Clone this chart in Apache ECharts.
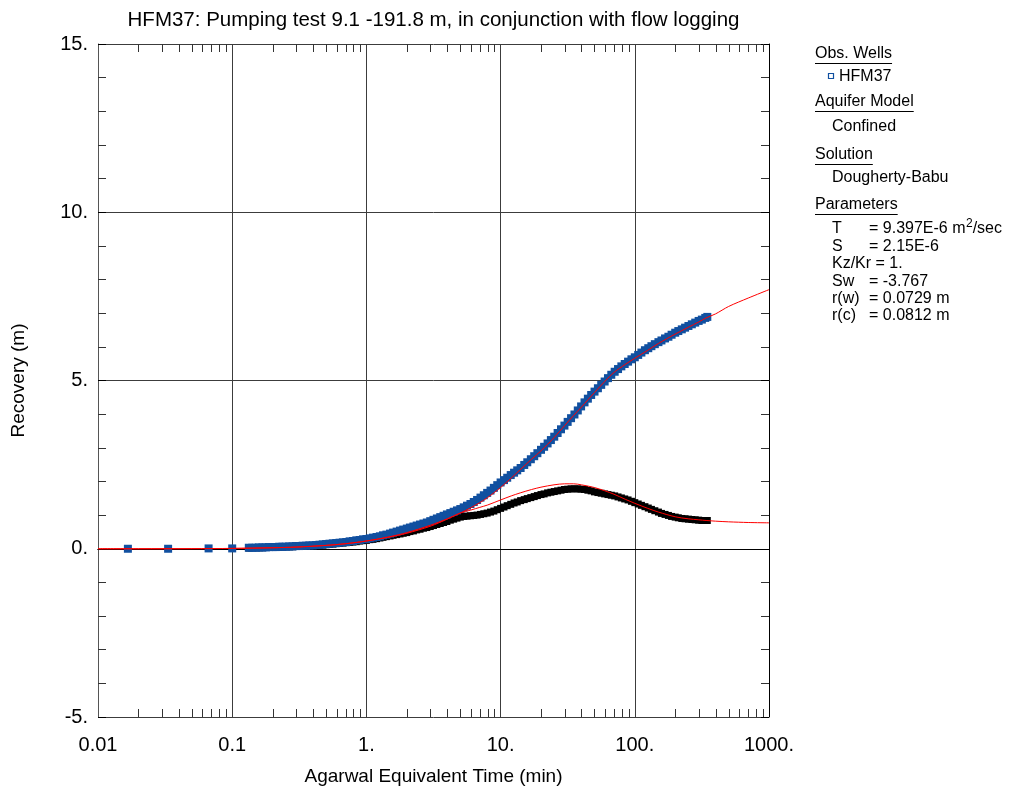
<!DOCTYPE html>
<html>
<head>
<meta charset="utf-8">
<script src="https://cdn.jsdelivr.net/npm/echarts@6/dist/echarts.min.js"></script>
<style>
  html, body { margin: 0; padding: 0; background: #ffffff; }
  #chart { width: 1016px; height: 791px; }
</style>
</head>
<body>
<div id="chart"></div>
<script>
// ---- text ----
const chartTitle = 'HFM37: Pumping test 9.1 -191.8 m, in conjunction with flow logging';
const xAxisTitle = 'Agarwal Equivalent Time (min)';
const yAxisTitle = 'Recovery (m)';

// ---- axes ----
const xMin = 0.01, xMax = 1000;
const xTickValues = [0.01, 0.1, 1, 10, 100, 1000];
const xTickLabels = ['0.01', '0.1', '1.', '10.', '100.', '1000.'];
const xMinorTicks = [
  0.02, 0.03, 0.04, 0.05, 0.06, 0.07, 0.08, 0.09,
  0.2, 0.3, 0.4, 0.5, 0.6, 0.7, 0.8, 0.9,
  2, 3, 4, 5, 6, 7, 8, 9,
  20, 30, 40, 50, 60, 70, 80, 90,
  200, 300, 400, 500, 600, 700, 800, 900
];
const yMin = -5, yMax = 15, yStep = 5;
const yTickValues = [-5, 0, 5, 10, 15];
const yTickLabels = ['-5.', '0.', '5.', '10.', '15.'];

// ---- observed recovery, HFM37 (min, m) ----
const hfm37Time = [
  0.0167, 0.0333, 0.0667, 0.1,
  0.133, 0.141, 0.15, 0.158, 0.168, 0.178, 0.188, 0.2, 0.211, 0.224, 0.237, 0.251, 0.266, 0.282,
  0.299, 0.316, 0.335, 0.355, 0.376, 0.398, 0.422, 0.447, 0.473, 0.501, 0.531, 0.562, 0.596,
  0.631, 0.668, 0.708, 0.75, 0.794, 0.841, 0.891, 0.944,
  1.00, 1.06, 1.12, 1.19, 1.26, 1.33, 1.41, 1.50, 1.58, 1.68, 1.78, 1.88, 2.00, 2.11, 2.24,
  2.37, 2.51, 2.66, 2.82, 2.99, 3.16, 3.35, 3.55, 3.76, 3.98, 4.22, 4.47, 4.73, 5.01, 5.31,
  5.62, 5.96, 6.31, 6.68, 7.08, 7.50, 7.94, 8.41, 8.91, 9.44,
  10.0, 10.6, 11.2, 11.9, 12.6, 13.3, 14.1, 15.0, 15.8, 16.8, 17.8, 18.8, 20.0, 21.1, 22.4,
  23.7, 25.1, 26.6, 28.2, 29.9, 31.6, 33.5, 35.5, 37.6, 39.8, 42.2, 44.7, 47.3, 50.1, 53.1,
  56.2, 59.6, 63.1, 66.8, 70.8, 75.0, 79.4, 84.1, 89.1, 94.4,
  100, 106, 112, 119, 126, 133, 141, 150, 158, 168, 178, 188, 200, 211, 224, 237, 251, 266,
  282, 299, 316, 335, 347
];
const hfm37Recovery = [
  0.00, 0.00, 0.01, 0.01,
  0.03, 0.03, 0.03, 0.04, 0.04, 0.04, 0.05, 0.05, 0.05, 0.06, 0.06, 0.06, 0.07, 0.07,
  0.08, 0.08, 0.09, 0.09, 0.10, 0.10, 0.11, 0.12, 0.13, 0.14, 0.15, 0.16, 0.17,
  0.18, 0.19, 0.20, 0.22, 0.23, 0.25, 0.26, 0.28,
  0.29, 0.31, 0.33, 0.35, 0.37, 0.40, 0.42, 0.45, 0.48, 0.51, 0.54, 0.57, 0.60, 0.63, 0.66,
  0.69, 0.72, 0.75, 0.78, 0.82, 0.86, 0.90, 0.94, 0.98, 1.02, 1.06, 1.10, 1.14, 1.18, 1.23,
  1.28, 1.33, 1.39, 1.45, 1.52, 1.59, 1.66, 1.73, 1.81, 1.89,
  1.97, 2.04, 2.11, 2.19, 2.26, 2.33, 2.40, 2.49, 2.57, 2.66, 2.75, 2.84, 2.94, 3.03, 3.13,
  3.23, 3.33, 3.44, 3.55, 3.66, 3.77, 3.88, 3.99, 4.11, 4.23, 4.35, 4.46, 4.57, 4.67, 4.77,
  4.87, 4.97, 5.07, 5.17, 5.26, 5.34, 5.42, 5.49, 5.56, 5.63,
  5.69, 5.76, 5.83, 5.90, 5.96, 6.02, 6.08, 6.14, 6.19, 6.25, 6.30, 6.36, 6.42, 6.47, 6.52, 6.57, 6.62, 6.67,
  6.72, 6.77, 6.81, 6.86, 6.89
];

// ---- recovery with flow-logging correction (min, m); same sampling from 0.133 min ----
const flowTime = hfm37Time.slice(4);
const flowRecovery = [
  0.02, 0.03, 0.03, 0.03, 0.03, 0.04, 0.04, 0.04, 0.05, 0.05, 0.05, 0.06, 0.06, 0.06,
  0.07, 0.07, 0.08, 0.08, 0.09, 0.09, 0.10, 0.11, 0.11, 0.12, 0.13, 0.14, 0.15,
  0.16, 0.17, 0.18, 0.19, 0.20, 0.21, 0.23, 0.24,
  0.25, 0.27, 0.28, 0.30, 0.32, 0.34, 0.36, 0.38, 0.40, 0.42, 0.44, 0.46, 0.48, 0.51, 0.53,
  0.56, 0.58, 0.61, 0.63, 0.66, 0.69, 0.72, 0.75, 0.78, 0.81, 0.85, 0.88, 0.91, 0.94, 0.96,
  0.97, 0.98, 0.99, 1.00, 1.02, 1.04, 1.06, 1.09, 1.12, 1.16,
  1.20, 1.24, 1.28, 1.32, 1.36, 1.39, 1.43, 1.46, 1.49, 1.52, 1.55, 1.58, 1.61, 1.63, 1.66,
  1.68, 1.70, 1.72, 1.74, 1.76, 1.77, 1.78, 1.78, 1.78, 1.77, 1.76, 1.74, 1.72, 1.69, 1.67,
  1.65, 1.63, 1.61, 1.59, 1.57, 1.54, 1.51, 1.48, 1.45, 1.41,
  1.37, 1.33, 1.29, 1.25, 1.21, 1.17, 1.13, 1.09, 1.05, 1.02, 0.99, 0.96, 0.94, 0.92, 0.90, 0.89, 0.88, 0.87,
  0.86, 0.85, 0.84, 0.84, 0.84
];

// ---- Dougherty-Babu type curves (min, m) ----
const modelTime = [
  0.01, 0.02, 0.05, 0.1, 0.2, 0.3, 0.5, 0.7, 1, 1.5, 2, 3, 4, 5, 6, 7, 8, 10, 12, 14,
  17, 20, 25, 30, 35, 40, 50, 60, 70, 85, 100, 125, 150, 200, 250, 300, 340, 400, 500, 700, 1000
];
const modelHfm37 = [
  0.00, 0.00, 0.003, 0.01, 0.03, 0.05, 0.10, 0.15, 0.23, 0.36, 0.48, 0.70, 0.89, 1.06, 1.22, 1.37, 1.52, 1.82, 2.10, 2.35,
  2.66, 2.91, 3.30, 3.66, 3.96, 4.21, 4.64, 4.98, 5.24, 5.48, 5.66, 5.90, 6.10, 6.38, 6.58, 6.74, 6.86, 6.98, 7.20, 7.45, 7.70
];
const modelFlow = [
  0.00, 0.00, 0.003, 0.01, 0.03, 0.05, 0.10, 0.15, 0.23, 0.35, 0.46, 0.67, 0.88, 1.06, 1.15, 1.23, 1.30, 1.45, 1.57, 1.66,
  1.76, 1.83, 1.90, 1.93, 1.93, 1.90, 1.82, 1.72, 1.62, 1.47, 1.35, 1.20, 1.09, 0.95, 0.89, 0.86, 0.84, 0.82, 0.80, 0.78, 0.77
];

// ---- side panel ----
const panelFont = '"Liberation Sans", Arial, sans-serif';
const wellName = 'HFM37';
const aquiferModel = 'Confined';
const solutionName = 'Dougherty-Babu';
const paramNames = ['T', 'S', 'Kz/Kr = 1.', 'Sw', 'r(w)', 'r(c)'];
const paramValues = ['= 9.397E-6 m', '= 2.15E-6', '', '= -3.767', '= 0.0729 m', '= 0.0812 m'];
const paramSup = ['2', '', '', '', '', ''];
const paramTail = ['/sec', '', '', '', '', ''];

const pairs = (xs, ys) => xs.map((x, i) => [x, ys[i]]);

const chart = echarts.init(document.getElementById('chart'), null, { renderer: 'canvas' });

const measureCtx = document.createElement('canvas').getContext('2d');
function textWidth(txt, size) {
  measureCtx.font = size + 'px ' + panelFont;
  return measureCtx.measureText(txt).width;
}

const gridBox = { left: 98, top: 44, right: 247, bottom: 74 };
const fontFamily = '"Liberation Sans", Arial, sans-serif';
const gridColor = '#3c3c3c';
const wellBlue = '#1150a0';

// side panel graphics
const panel = [];
const px = 815;
function txt(t, x, y, size) {
  panel.push({
    type: 'text', x: x, y: y,
    style: { text: t, font: (size || 16) + 'px ' + panelFont, fill: '#000', textVerticalAlign: 'middle' }
  });
}
function header(t, y) {
  txt(t, px, y);
  const w = textWidth(t, 16);
  panel.push({ type: 'line', shape: { x1: px, y1: y + 9.5, x2: px + w, y2: y + 9.5 }, style: { stroke: '#000', lineWidth: 1 } });
}
header('Obs. Wells', 54);
panel.push({ type: 'rect', shape: { x: 828.5, y: 73.5, width: 5, height: 5 }, style: { fill: '#ffffff', stroke: wellBlue, lineWidth: 1.2 } });
txt(wellName, 839, 77);
header('Aquifer Model', 102);
txt(aquiferModel, 832, 127);
header('Solution', 155);
txt(solutionName, 832, 178);
header('Parameters', 205);
const paramY0 = 229, paramDy = 17.4, valueX = 869;
paramNames.forEach((n, i) => {
  const y = paramY0 + i * paramDy;
  txt(n, 832, y);
  if (paramValues[i]) {
    txt(paramValues[i], valueX, y);
    let x = valueX + textWidth(paramValues[i], 16);
    if (paramSup[i]) {
      txt(paramSup[i], x + 0.5, y - 5, 12);
      x += textWidth(paramSup[i], 12) + 0.5;
    }
    if (paramTail[i]) txt(paramTail[i], x, y);
  }
});
panel.push({
  type: 'text', x: 433.5, y: 20,
  style: { text: chartTitle, font: '20.5px ' + fontFamily, fill: '#000', textAlign: 'center', textVerticalAlign: 'middle' }
});

const option = {
  backgroundColor: '#ffffff',
  animation: false,
  grid: gridBox,
  xAxis: [
    {
      type: 'log', logBase: 10, min: xMin, max: xMax, position: 'bottom',
      axisLine: { show: true, lineStyle: { color: '#000', width: 1 } },
      axisTick: { show: false },
      splitLine: { show: true, lineStyle: { color: gridColor, width: 1 } },
      axisLabel: {
        color: '#000', fontSize: 20, fontFamily: fontFamily, margin: 18,
        formatter: v => {
          const i = xTickValues.findIndex(t => Math.abs(Math.log10(t) - Math.log10(v)) < 1e-6);
          return i >= 0 ? xTickLabels[i] : '';
        }
      },
      name: xAxisTitle, nameLocation: 'middle', nameGap: 50,
      nameTextStyle: { color: '#000', fontSize: 19, fontFamily: fontFamily }
    },
    {
      type: 'log', logBase: 10, min: xMin, max: xMax, position: 'top',
      axisLine: { show: true, lineStyle: { color: '#000', width: 1 } },
      axisTick: { show: false }, axisLabel: { show: false }, splitLine: { show: false }
    }
  ],
  yAxis: [
    {
      type: 'value', min: yMin, max: yMax, interval: yStep, position: 'left',
      axisLine: { show: true, lineStyle: { color: '#555', width: 1 } },
      axisTick: { show: true, inside: true, length: 8, lineStyle: { color: '#000' } },
      minorTick: { show: true, splitNumber: 5, length: 8, lineStyle: { color: '#333' } },
      splitLine: { show: true, lineStyle: { color: gridColor, width: 1 } },
      axisLabel: {
        color: '#000', fontSize: 20, fontFamily: fontFamily, margin: 10,
        formatter: v => { const i = yTickValues.indexOf(v); return i >= 0 ? yTickLabels[i] : ''; }
      },
      name: yAxisTitle, nameLocation: 'middle', nameGap: 70, nameRotate: 90,
      nameTextStyle: { color: '#000', fontSize: 19, fontFamily: fontFamily }
    },
    {
      type: 'value', min: yMin, max: yMax, interval: yStep, position: 'right',
      axisLine: { show: true, lineStyle: { color: '#000', width: 1 } },
      axisTick: { show: true, inside: true, length: 8, lineStyle: { color: '#000' } },
      minorTick: { show: true, splitNumber: 5, length: 8, lineStyle: { color: '#333' } },
      axisLabel: { show: false }, splitLine: { show: false }
    }
  ],
  graphic: panel,
  series: [
    {
      // minor log ticks along the bottom and top edges
      type: 'custom', xAxisIndex: 0, yAxisIndex: 0, silent: true, clip: false, z: 1,
      data: xMinorTicks.map(v => [v, yMin]),
      renderItem: (params, api) => {
        const cs = params.coordSys;
        const x = Math.round(api.coord([api.value(0), yMin])[0]) + 0.5;
        const yb = cs.y + cs.height, yt = cs.y;
        return {
          type: 'group',
          children: [
            { type: 'line', shape: { x1: x, y1: yb, x2: x, y2: yb - 8 }, style: { stroke: '#333', lineWidth: 1 } },
            { type: 'line', shape: { x1: x, y1: yt, x2: x, y2: yt + 8 }, style: { stroke: '#333', lineWidth: 1 } }
          ]
        };
      }
    },
    {
      name: 'flow corrected', type: 'scatter', xAxisIndex: 0, yAxisIndex: 0,
      data: pairs(flowTime, flowRecovery),
      symbol: 'rect', symbolSize: 7,
      itemStyle: { color: '#000000', opacity: 1 }, z: 3
    },
    {
      name: wellName, type: 'scatter', xAxisIndex: 0, yAxisIndex: 0,
      data: pairs(hfm37Time, hfm37Recovery),
      symbol: 'rect', symbolSize: 8,
      itemStyle: { color: wellBlue, opacity: 1 }, z: 4
    },
    {
      name: 'model HFM37', type: 'line', xAxisIndex: 0, yAxisIndex: 0,
      data: pairs(modelTime, modelHfm37), showSymbol: false, smooth: 0.3,
      lineStyle: { color: '#ff0000', width: 1 }, z: 5
    },
    {
      name: 'model flow corrected', type: 'line', xAxisIndex: 0, yAxisIndex: 0,
      data: pairs(modelTime, modelFlow), showSymbol: false, smooth: 0.3,
      lineStyle: { color: '#ff0000', width: 1 }, z: 5
    }
  ]
};

chart.setOption(option);
</script>
</body>
</html>
